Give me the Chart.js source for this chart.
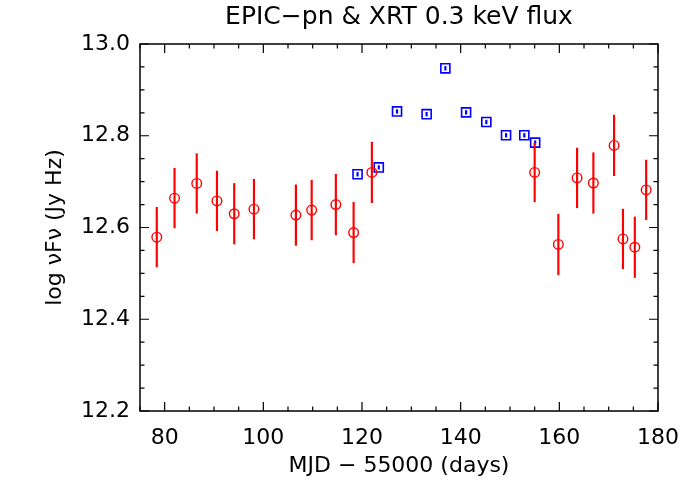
<!DOCTYPE html>
<html>
<head>
<meta charset="utf-8">
<script src="https://cdn.jsdelivr.net/npm/chart.js@4.4.0/dist/chart.umd.min.js"></script>
<style>
  html, body { margin: 0; padding: 0; background: #fff; }
  #wrap { width: 700px; height: 500px; }
</style>
</head>
<body>
<div id="wrap"><canvas id="fluxChart"></canvas></div>
<script>
// XRT points (red circles)
const xrtDays = [78.4, 82.0, 86.5, 90.6, 94.1, 98.1, 106.6, 109.8, 114.7, 118.3, 122.0,
                 155.0, 159.8, 163.6, 166.9, 171.1, 172.9, 175.3, 177.6];
const xrtFlux = [12.579, 12.664, 12.696, 12.658, 12.630, 12.640, 12.627, 12.638, 12.650, 12.589, 12.720,
                 12.720, 12.563, 12.708, 12.697, 12.779, 12.575, 12.557, 12.682];
const xrtErr  = [0.065, 0.065, 0.065, 0.065, 0.066, 0.065, 0.066, 0.065, 0.066, 0.066, 0.066,
                 0.064, 0.066, 0.065, 0.066, 0.066, 0.065, 0.066, 0.065];

// EPIC-pn points (blue squares)
const pnDays = [119.1, 123.4, 127.1, 133.1, 136.9, 141.1, 145.2, 149.2, 152.9, 155.1];
const pnFlux = [12.716, 12.731, 12.853, 12.847, 12.947, 12.851, 12.830, 12.801, 12.801, 12.785];
const pnErr  = [0.004, 0.004, 0.004, 0.004, 0.004, 0.004, 0.004, 0.004, 0.004, 0.004];

const xMajor = 20, xMinor = 5;
const yMajor = 0.2, yMinor = 0.05;

const isMajor = (v, step) => Math.abs(v / step - Math.round(v / step)) < 1e-6;

// frame + inward ticks on all four sides
const frameTicks = {
    id: 'frameTicks',
    afterDraw(chart) {
        const ctx = chart.ctx;
        const a = chart.chartArea;
        const xs = chart.scales.x, ys = chart.scales.y;
        ctx.save();
        ctx.strokeStyle = '#000';
        ctx.lineWidth = 1.5;
        ctx.strokeRect(a.left, a.top, a.right - a.left, a.bottom - a.top);
        ctx.lineWidth = 1.2;
        ctx.beginPath();
        xs.ticks.forEach(t => {
            const px = xs.getPixelForValue(t.value);
            const len = isMajor(t.value, xMajor) ? 9 : 4.5;
            ctx.moveTo(px, a.bottom); ctx.lineTo(px, a.bottom - len);
            ctx.moveTo(px, a.top); ctx.lineTo(px, a.top + len);
        });
        ys.ticks.forEach(t => {
            const py = ys.getPixelForValue(t.value);
            const len = isMajor(t.value, yMajor) ? 9 : 4.5;
            ctx.moveTo(a.left, py); ctx.lineTo(a.left + len, py);
            ctx.moveTo(a.right, py); ctx.lineTo(a.right - len, py);
        });
        ctx.stroke();
        ctx.restore();
    }
};

const font = 'DejaVu Sans';

new Chart(document.getElementById('fluxChart'), {
    type: 'scatter',
    data: {
        datasets: [
            {
                type: 'bar',
                data: xrtDays.map((d, i) => ({x: d, y: [xrtFlux[i] - xrtErr[i], xrtFlux[i] + xrtErr[i]]})),
                backgroundColor: '#ff0000',
                barThickness: 1.5,
                grouped: false
            },
            {
                data: xrtDays.map((d, i) => ({x: d, y: xrtFlux[i]})),
                pointStyle: 'circle',
                pointRadius: 4.8,
                borderColor: '#ff0000',
                backgroundColor: 'rgba(0,0,0,0)',
                borderWidth: 1.4
            },
            {
                type: 'bar',
                data: pnDays.map((d, i) => ({x: d, y: [pnFlux[i] - pnErr[i], pnFlux[i] + pnErr[i]]})),
                backgroundColor: '#0000ff',
                barThickness: 1.5,
                grouped: false
            },
            {
                data: pnDays.map((d, i) => ({x: d, y: pnFlux[i]})),
                pointStyle: 'rect',
                pointRadius: 6.4,
                borderColor: '#0000ff',
                backgroundColor: 'rgba(0,0,0,0)',
                borderWidth: 1.6
            }
        ]
    },
    options: {
        responsive: true,
        maintainAspectRatio: false,
        animation: false,
        layout: { padding: { left: 0, right: 42, top: 0, bottom: 0 } },
        plugins: {
            legend: { display: false },
            tooltip: { enabled: false },
            title: {
                display: true,
                fullSize: false,
                text: 'EPIC\u2212pn & XRT 0.3 keV flux',
                color: '#000',
                font: { family: font, size: 25, weight: 'normal' },
                padding: { top: 2, bottom: 12 }
            }
        },
        scales: {
            x: {
                type: 'linear',
                min: 75,
                max: 180,
                offset: false,
                grid: { display: false, drawTicks: false, offset: false },
                border: { display: false },
                ticks: {
                    stepSize: xMinor,
                    autoSkip: false,
                    maxRotation: 0,
                    padding: 14,
                    color: '#000',
                    font: { family: font, size: 22 },
                    callback: v => isMajor(v, xMajor) ? String(v) : ''
                },
                title: {
                    display: true,
                    text: 'MJD \u2212 55000 (days)',
                    color: '#000',
                    font: { family: font, size: 22 },
                    padding: { top: 0, bottom: 21 }
                },
                afterFit: s => { s.height = 89; }
            },
            y: {
                min: 12.2,
                max: 13.0,
                beginAtZero: false,
                grid: { display: false, drawTicks: false },
                border: { display: false },
                ticks: {
                    stepSize: yMinor,
                    autoSkip: false,
                    padding: 10,
                    color: '#000',
                    font: { family: font, size: 22 },
                    callback: v => isMajor(v, yMajor) ? v.toFixed(1) : ''
                },
                title: {
                    display: true,
                    text: 'log \u03BDF\u03BD (Jy Hz)',
                    color: '#000',
                    font: { family: font, size: 22 },
                    padding: { top: 42, bottom: 0 }
                },
                afterFit: s => { s.width = 140; }
            }
        }
    },
    plugins: [frameTicks]
});
</script>
</body>
</html>
